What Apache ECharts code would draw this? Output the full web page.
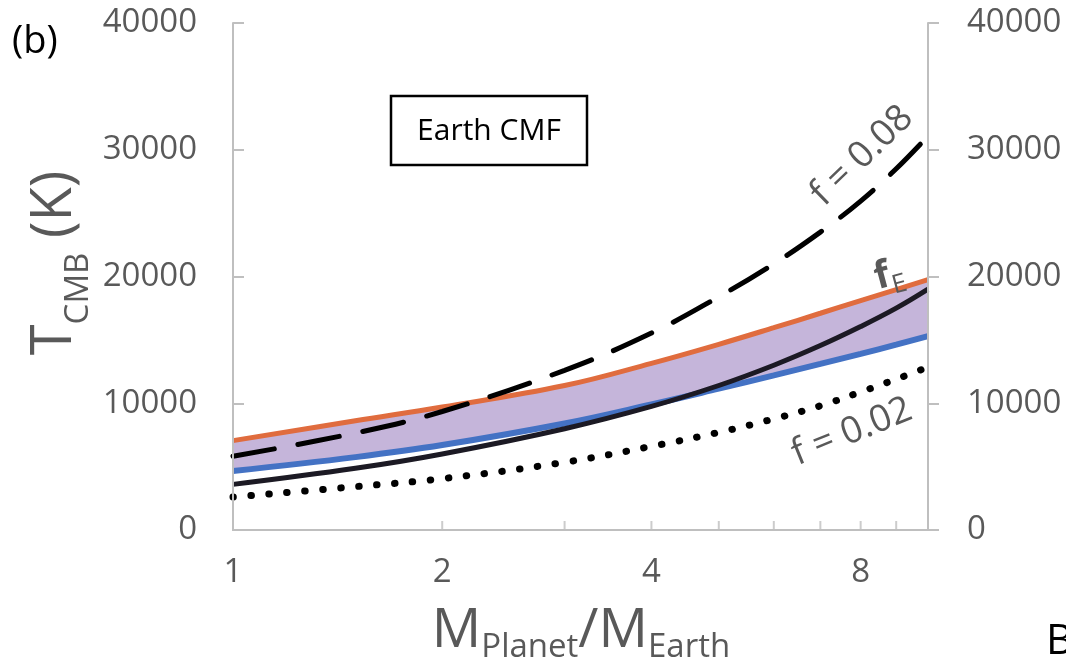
<!DOCTYPE html>
<html>
<head>
<meta charset="utf-8">
<script src="https://cdn.jsdelivr.net/npm/echarts@6/dist/echarts.min.js"></script>
<style>
  html, body { margin: 0; padding: 0; background: #ffffff; }
  #chart { width: 1066px; height: 662px; }
</style>
</head>
<body>
<div id="chart"></div>
<script>
// Planet mass in Earth masses (log axis)
const massRatio = [1, 1.5, 2, 3, 4, 5, 6, 7, 8, 9, 10];
// Upper / lower bounds of the shaded CMB temperature band (K)
const tUpper = [7050, 8620, 9700, 11400, 13150, 14650, 15960, 17100, 18100, 18970, 19750];
const tLower = [4650, 5750, 6700, 8400, 9900, 11150, 12200, 13100, 13900, 14620, 15300];
// Core-mantle boundary temperature for different f values (K)
const tFE = [3600, 4870, 6000, 7990, 9750, 11400, 13000, 14550, 16050, 17500, 19000];
const tF008 = [5820, 7650, 9350, 12600, 15540, 18400, 21000, 23500, 25950, 28500, 31080];
const tF002 = [2600, 3420, 4050, 5340, 6600, 7700, 8770, 9800, 10890, 11900, 12850];
// Axis ticks
const xLabelValues = [1, 2, 4, 8];
const xMinorTicks = [2, 3, 4, 5, 6, 7, 8, 9];
const yTicks = [0, 10000, 20000, 30000, 40000];

const pairs = ys => massRatio.map((m, i) => [m, ys[i]]);

const axisGray = '#bfbfbf';
const labelGray = '#595959';
const FONT = '"Open Sans", "Noto Sans", sans-serif';
const SMOOTH = 0.4;

const chart = echarts.init(document.getElementById('chart'), null, { renderer: 'canvas' });

const yAxisBase = {
  type: 'value', min: yTicks[0], max: yTicks[yTicks.length - 1], interval: 10000, z: 10,
  splitLine: { show: false },
  axisLine: { show: true, lineStyle: { color: axisGray, width: 2 } },
  axisLabel: { color: labelGray, fontSize: 33, fontFamily: FONT, formatter: v => String(v) }
};

chart.setOption({
  animation: false,
  backgroundColor: '#ffffff',
  grid: { left: 233, right: 138, top: 23, bottom: 132, containLabel: false },
  xAxis: [
    {
      type: 'log', logBase: 2, min: 1, max: 10, position: 'bottom', z: 10,
      axisLine: { show: true, lineStyle: { color: axisGray, width: 2 } },
      axisTick: { show: false },
      splitLine: { show: false },
      axisLabel: {
        color: labelGray, fontSize: 33, fontFamily: FONT, margin: 26,
        showMaxLabel: false,
        formatter: v => {
          const r = Math.round(v);
          return (Math.abs(v - r) < 1e-6 && xLabelValues.indexOf(r) >= 0) ? String(r) : '';
        }
      }
    },
    {
      type: 'log', logBase: 2, min: 1, max: 10, position: 'top', z: 10,
      axisLine: { show: true, lineStyle: { color: axisGray, width: 2 } },
      axisTick: { show: false }, axisLabel: { show: false }, splitLine: { show: false }
    }
  ],
  yAxis: [
    Object.assign({}, yAxisBase, {
      position: 'left',
      axisTick: { show: true, inside: true, length: 11, lineStyle: { color: axisGray, width: 2 } },
      axisLabel: Object.assign({}, yAxisBase.axisLabel, { margin: 36 })
    }),
    Object.assign({}, yAxisBase, {
      position: 'right',
      axisTick: { show: true, inside: false, length: 11, lineStyle: { color: axisGray, width: 2 } },
      axisLabel: Object.assign({}, yAxisBase.axisLabel, { margin: 39 })
    })
  ],
  series: [
    // shaded band: fill under the upper bound, then blank out what lies under the lower bound
    {
      type: 'line', data: pairs(tUpper), smooth: SMOOTH, symbol: 'none', silent: true, z: 2,
      lineStyle: { opacity: 0 }, areaStyle: { color: '#c5b5da', opacity: 1, origin: 'start' }
    },
    {
      type: 'line', data: pairs(tLower), smooth: SMOOTH, symbol: 'none', silent: true, z: 2,
      lineStyle: { opacity: 0 }, areaStyle: { color: '#ffffff', opacity: 1, origin: 'start' }
    },
    // band edges
    {
      type: 'line', data: pairs(tLower), smooth: SMOOTH, symbol: 'none', z: 3,
      lineStyle: { color: '#4472c4', width: 6 }
    },
    {
      type: 'line', data: pairs(tUpper), smooth: SMOOTH, symbol: 'none', z: 3,
      lineStyle: { color: '#e06c3e', width: 5 }
    },
    // f = 0.08
    {
      type: 'line', data: pairs(tF008), smooth: SMOOTH, symbol: 'none', z: 4,
      lineStyle: { color: '#000000', width: 5, type: [42, 24], cap: 'round' }
    },
    // f_E
    {
      type: 'line', data: pairs(tFE), smooth: SMOOTH, symbol: 'none', z: 5,
      lineStyle: { color: '#1c1a24', width: 5 }
    },
    // f = 0.02
    {
      type: 'line', data: pairs(tF002), smooth: SMOOTH, symbol: 'none', z: 4,
      lineStyle: { color: '#000000', width: 7, type: [0.5, 17.5], cap: 'round' }
    },
    // minor ticks on the log mass axis
    {
      type: 'scatter', xAxisIndex: 0, yAxisIndex: 0, silent: true, z: 11,
      data: xMinorTicks.map(v => [v, 0]),
      symbol: 'rect', symbolSize: [2, 9], symbolOffset: [0, -4.5],
      itemStyle: { color: axisGray }
    }
  ],
  graphic: [
    { type: 'text', left: 12, top: 23, style: { text: '(b)', fontSize: 38, fontFamily: FONT, fill: '#000000' } },
    // y axis title, rotated
    {
      type: 'text', x: 61, y: 263, rotation: Math.PI / 2,
      style: {
        text: '{a|T}{b|CMB}{a| (K)}', align: 'center', verticalAlign: 'middle', fill: labelGray,
        rich: {
          a: { fontSize: 56, fontFamily: FONT, fill: labelGray, verticalAlign: 'bottom', padding: [0, 0, 12, 0] },
          b: { fontSize: 33, fontFamily: FONT, fill: labelGray, verticalAlign: 'bottom' }
        }
      }
    },
    // x axis title
    {
      type: 'text', x: 581, y: 634,
      style: {
        text: '{a|M}{b|Planet}{a|/M}{b|Earth}', align: 'center', verticalAlign: 'middle', fill: labelGray,
        rich: {
          a: { fontSize: 55, fontFamily: FONT, fill: labelGray, verticalAlign: 'bottom', padding: [0, 0, 6, 0] },
          b: { fontSize: 33, fontFamily: FONT, fill: labelGray, verticalAlign: 'bottom' }
        }
      }
    },
    // legend box
    {
      type: 'rect', shape: { x: 391, y: 96, width: 196, height: 69 },
      style: { fill: '#ffffff', stroke: '#000000', lineWidth: 2.5 }, z: 10
    },
    {
      type: 'text', x: 489, y: 131, z: 11,
      style: { text: 'Earth CMF', fontSize: 30, fontFamily: FONT, fill: '#000000', align: 'center', verticalAlign: 'middle' }
    },
    // curve annotations
    {
      type: 'text', x: 862, y: 156, rotation: 44 * Math.PI / 180, z: 11,
      style: { text: 'f = 0.08', fontSize: 37, fontFamily: FONT, fill: labelGray, align: 'center', verticalAlign: 'middle' }
    },
    {
      type: 'text', x: 890, y: 278, rotation: 15 * Math.PI / 180, z: 11,
      style: {
        text: '{f|f}{e|E}', align: 'center', verticalAlign: 'middle',
        rich: {
          f: { fontSize: 38, fontFamily: FONT, fontWeight: 'bold', fill: labelGray, verticalAlign: 'bottom', padding: [0, 0, 6, 0] },
          e: { fontSize: 26, fontFamily: FONT, fill: labelGray, verticalAlign: 'bottom' }
        }
      }
    },
    {
      type: 'text', x: 852, y: 432, rotation: 22 * Math.PI / 180, z: 11,
      style: { text: 'f = 0.02', fontSize: 37, fontFamily: FONT, fill: labelGray, align: 'center', verticalAlign: 'middle' }
    },
    { type: 'text', left: 1046, top: 621, style: { text: 'B', fontSize: 42, fontFamily: FONT, fill: '#000000' } }
  ]
});
</script>
</body>
</html>
